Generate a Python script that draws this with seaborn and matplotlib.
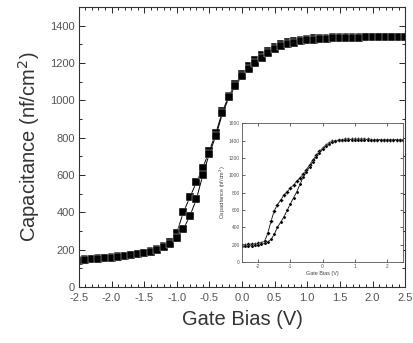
import numpy as np
import pandas as pd
import matplotlib
matplotlib.use("Agg")
import matplotlib.pyplot as plt
import seaborn as sns

# ---- main data (gate bias sweep, two directions) ----
bias = [round(-2.5 + 0.1 * i, 1) for i in range(51)]
cap_reverse = [145, 148, 151, 154, 157, 160, 164, 168, 173, 178,
               185, 192, 203, 218, 240, 290, 400, 480, 560, 640,
               730, 825, 940, 1025, 1088, 1142, 1182, 1214, 1242, 1266,
               1286, 1301, 1311, 1319, 1324, 1328, 1331, 1333, 1335, 1336,
               1337, 1337, 1338, 1338, 1338, 1338, 1338, 1338, 1338, 1338, 1338]
cap_forward = [142, 145, 148, 151, 154, 157, 161, 165, 170, 175,
               181, 188, 198, 212, 232, 265, 310, 380, 470, 600,
               715, 810, 930, 1015, 1078, 1130, 1170, 1200, 1228, 1252,
               1272, 1288, 1300, 1309, 1316, 1321, 1325, 1328, 1330, 1332,
               1333, 1334, 1335, 1335, 1336, 1336, 1336, 1336, 1336, 1336, 1336]

# ---- inset data ----
inset_bias = [round(-2.5 + 0.1 * i, 1) for i in range(51)]
inset_cap_a = [200, 202, 205, 208, 212, 218, 225, 240, 330, 470,
               590, 660, 715, 770, 810, 850, 890, 930, 970, 1010,
               1065, 1120, 1175, 1230, 1275, 1310, 1345, 1370, 1390, 1400,
               1405, 1410, 1412, 1412, 1412, 1412, 1412, 1412, 1412, 1412,
               1411, 1411, 1411, 1410, 1410, 1410, 1410, 1410, 1410, 1410, 1410]
inset_cap_b = [180, 183, 186, 189, 193, 198, 205, 215, 235, 260,
               320, 400, 460, 520, 595, 670, 740, 810, 895, 980,
               1040, 1100, 1155, 1210, 1258, 1300, 1335, 1360, 1382, 1395,
               1402, 1406, 1408, 1410, 1410, 1410, 1410, 1410, 1410, 1410,
               1410, 1409, 1409, 1409, 1409, 1409, 1409, 1409, 1409, 1409, 1409]

main_df = pd.DataFrame({
    "bias": bias * 2,
    "cap": cap_reverse + cap_forward,
    "sweep": ["reverse"] * len(bias) + ["forward"] * len(bias),
})
inset_df = pd.DataFrame({
    "bias": inset_bias * 2,
    "cap": inset_cap_a + inset_cap_b,
    "sweep": ["a"] * len(inset_bias) + ["b"] * len(inset_bias),
})

sns.set_style("ticks")
plt.rcParams["font.family"] = ["Liberation Sans", "DejaVu Sans"]
plt.rcParams["axes.unicode_minus"] = False

fig = plt.figure(figsize=(4.13, 3.43), dpi=100)
ax = fig.add_axes([0.191, 0.163, 0.790, 0.817])

sns.lineplot(data=main_df, x="bias", y="cap", hue="sweep", style="sweep",
             palette=["black", "black"], markers=["s", "s"], dashes=False,
             markersize=5.5, markeredgewidth=0.3, linewidth=0.7,
             legend=False, ax=ax, sort=False, estimator=None)

ax.set_xlim(-2.5, 2.5)
ax.set_ylim(0, 1500)
xt = np.arange(-2.5, 2.51, 0.5)
ax.set_xticks(xt)
ax.set_xticklabels([f"{v:.1f}".replace("-0.0", "0.0") for v in xt])
ax.set_yticks(np.arange(0, 1401, 200))
ax.set_xticks(np.arange(-2.5, 2.51, 0.1), minor=True)
ax.set_yticks(np.arange(0, 1501, 100), minor=True)
ax.tick_params(which="both", direction="in", top=True, right=True,
               labelsize=8, labelcolor="#555555", width=0.7)
ax.tick_params(axis="x", pad=4)
ax.tick_params(axis="y", pad=3)
ax.tick_params(which="major", length=4)
ax.tick_params(which="minor", length=2)
for s in ax.spines.values():
    s.set_linewidth(0.8)
    s.set_color("#333333")
ax.set_xlabel("Gate Bias (V)", fontsize=14.5, color="#333333", labelpad=5)
ax.set_ylabel("Capacitance (nf/cm$^2$)", fontsize=14.5, color="#333333", labelpad=6)

# ---- inset ----
axi = fig.add_axes([0.586, 0.236, 0.390, 0.405])
sns.lineplot(data=inset_df, x="bias", y="cap", hue="sweep", style="sweep",
             palette=["black", "black"], markers=["D", "o"], dashes=False,
             markersize=2.3, markeredgewidth=0.2, linewidth=0.6,
             legend=False, ax=axi, sort=False, estimator=None)
axi.set_xlim(-2.5, 2.5)
axi.set_ylim(0, 1600)
axi.set_xticks([-2, -1, 0, 1, 2])
axi.set_yticks(np.arange(0, 1601, 200))
axi.tick_params(which="both", direction="in", top=True, right=True,
                labelsize=3.5, labelcolor="#555555", width=0.5, length=2, pad=1.5)
for s in axi.spines.values():
    s.set_linewidth(0.6)
    s.set_color("#555555")
axi.set_xlabel("Gate Bias (V)", fontsize=4, color="#444444", labelpad=1)
axi.set_ylabel("Capacitance (nf/cm$^2$)", fontsize=4, color="#444444", labelpad=1)

fig.savefig("out.png", dpi=100)
